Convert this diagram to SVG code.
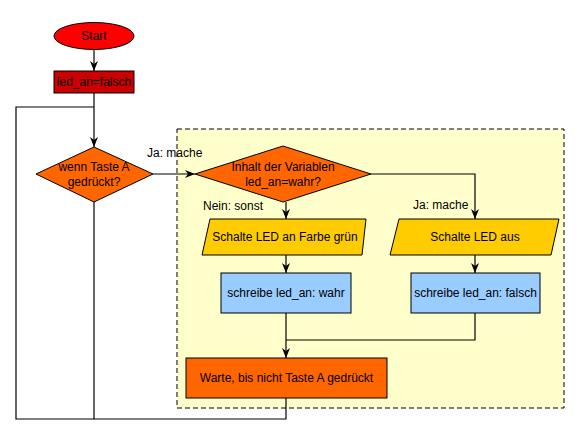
<svg xmlns="http://www.w3.org/2000/svg" width="580" height="435" viewBox="0 0 580 435">
<defs>
<marker id="arr" viewBox="0 0 10 8" refX="10" refY="4" markerWidth="10" markerHeight="8" markerUnits="userSpaceOnUse" orient="auto">
<path d="M0,0 L10,4 L0,8 L3,4 z" fill="#000"/>
</marker>
<style>
text{font-family:"Liberation Sans",Arial,sans-serif;font-size:12px;fill:#000;}
.c{text-anchor:middle;}
.n{stroke:#000;stroke-width:1;}
.e{fill:none;stroke:#000;stroke-width:1.2;}
.ea{fill:none;stroke:#000;stroke-width:1.2;marker-end:url(#arr);}
</style>
</defs>
<rect width="580" height="435" fill="#fff"/>
<g id="group">
<rect x="177" y="129" width="387" height="279" fill="#ffffcc" stroke="#000" stroke-width="1" stroke-dasharray="5,3"/>
</g>
<g id="connectors">
<path class="ea" d="M94,49 L94,71"/>
<path class="e" d="M94,93 L94,107"/>
<path class="ea" d="M94,107 L94,147"/>
<path class="e" d="M94,202 L94,419"/>
<path class="ea" d="M153,174 L195,174"/>
<path class="ea" d="M371,174 L475,174 L475,219"/>
<path class="ea" d="M286,202 L286,219"/>
<path class="ea" d="M286,255 L286,273"/>
<path class="ea" d="M475,255 L475,273"/>
<path class="ea" d="M286,313 L286,358"/>
<path class="e" d="M475,313 L475,340 L286,340"/>
<path class="e" d="M286,398 L286,419 L16,419 L16,107 L94,107"/>
<text x="147" y="157">Ja: mache</text>
<text x="413" y="209">Ja: mache</text>
<text x="203" y="210">Nein: sonst</text>
</g>
<g id="start">
<ellipse cx="94" cy="36" rx="40" ry="13.5" fill="#ff0000" class="n"/>
<text class="c" x="94" y="40">Start</text>
</g>
<g id="init">
<rect x="54" y="71" width="80" height="22" fill="#cc0000" class="n"/>
<text class="c" x="94" y="86">led_an=falsch</text>
</g>
<g id="decision1">
<polygon points="36,174 94,147 153,174 94,202" fill="#ff6600" class="n"/>
<text class="c" x="94" y="171">wenn Taste A</text>
<text class="c" x="94" y="186">gedrückt?</text>
</g>
<g id="decision2">
<polygon points="195,174 283,146 371,174 283,202" fill="#ff6600" class="n"/>
<text class="c" x="283" y="171">Inhalt der Variablen</text>
<text class="c" x="283" y="186">led_an=wahr?</text>
</g>
<g id="ledgreen">
<polygon points="210,219 366,219 362,255 202,255" fill="#ffcc00" class="n"/>
<text class="c" x="285" y="241">Schalte LED an Farbe grün</text>
</g>
<g id="ledoff">
<polygon points="399,219 559,219 551,255 390,255" fill="#ffcc00" class="n"/>
<text class="c" x="475" y="241">Schalte LED aus</text>
</g>
<g id="writetrue">
<rect x="221" y="273" width="130" height="40" fill="#99ccff" class="n"/>
<text class="c" x="286" y="297">schreibe led_an: wahr</text>
</g>
<g id="writefalse">
<rect x="411" y="273" width="129" height="40" fill="#99ccff" class="n"/>
<text class="c" x="475.5" y="297">schreibe led_an: falsch</text>
</g>
<g id="wait">
<rect x="186" y="358" width="201" height="40" fill="#ff6600" class="n"/>
<text class="c" x="286.5" y="382">Warte, bis nicht Taste A gedrückt</text>
</g>
</svg>
